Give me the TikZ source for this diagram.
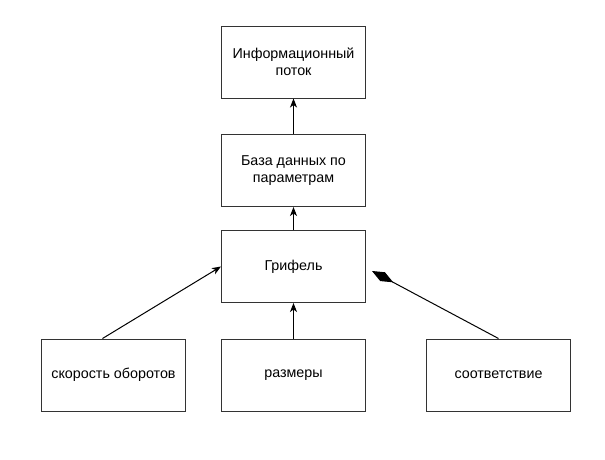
\documentclass[tikz,border=0pt]{standalone}
\usepackage{fontspec}
\setmainfont{Liberation Sans}
\usetikzlibrary{arrows.meta,positioning}

\begin{document}
\begin{tikzpicture}[
    x=1pt, y=-1pt,
    box/.style={draw=black!80, line width=1pt, minimum width=144pt, minimum height=72pt, align=center, font=\fontsize{14.3}{17.5}\selectfont},
    arrow/.style={-{Stealth[length=9pt, width=7pt, inset=2.5pt]}, line width=1pt},
    agg/.style={-{Diamond[length=24pt, width=10pt]}, line width=1pt}
]
\useasboundingbox (0,0) rectangle (605,459);
\node[box] (info) at (293.5,62) {Информационный\\поток};
\node[box] (base) at (293.5,170.5) {База данных по\\параметрам};
\node[box] (lead) at (293.5,266.5) {Грифель};
\node[box] (speed) at (113.5,375) {скорость оборотов};
\node[box] (size) at (293.5,375) {размеры};
\node[box] (match) at (498.5,375) {соответствие};
\coordinate (matchend) at (372,271);
\draw[arrow] (base.north) -- (info.south);
\draw[arrow] (lead.north) -- (base.south);
\draw[arrow] (size.north) -- (lead.south);
\draw[arrow] (speed.north -| 102.5,0) -- (lead.west);
\draw[agg] (match.north) -- (matchend);
\end{tikzpicture}
\end{document}
